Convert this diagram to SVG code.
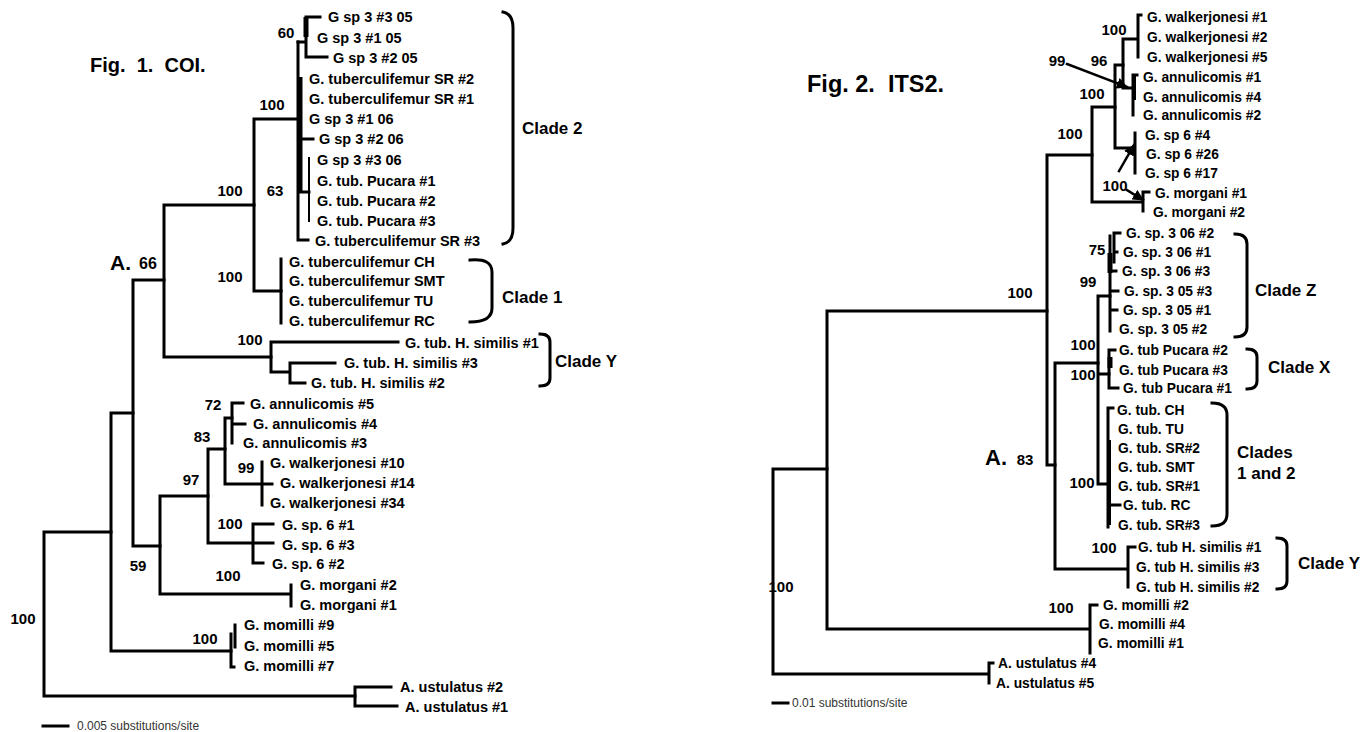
<svg xmlns="http://www.w3.org/2000/svg" width="1370" height="732" viewBox="0 0 1370 732">
<style>
.b{stroke:#000;stroke-width:3;fill:none;stroke-linecap:square}
.t{stroke:#000;stroke-width:5;fill:none}
text{font-family:"Liberation Sans",Arial,sans-serif;fill:#000;dominant-baseline:central}
.lf{font-size:14.5px;font-weight:bold}
.rf{font-size:13.8px;font-weight:bold}
.n{font-size:15px;font-weight:bold;text-anchor:middle}
.cl{font-size:17px;font-weight:bold}
.ti{font-weight:bold;dominant-baseline:auto;white-space:pre}
.sc{font-size:12px;fill:#333}
</style>
<defs>
<marker id="ah" viewBox="0 0 10 10" refX="9" refY="5" markerWidth="4.5" markerHeight="4.5" orient="auto"><path d="M0 0L10 5L0 10z" fill="#000"/></marker>
</defs>
<rect width="1370" height="732" fill="#fff"/>

<g id="titles">
<text class="ti" x="90" y="72" font-size="20" xml:space="preserve">Fig.  1.  COI.</text>
<text class="ti" x="807" y="92" font-size="23.5" xml:space="preserve">Fig. 2.  ITS2.</text>
</g>

<g id="connectors-fig1">
<path class="b" d="M44 532V696M44 532H111M44 696H355"/>
<path class="b" d="M355 687V706M355 687H391M355 706H397"/>
<path class="b" d="M111 413V651M111 413H133M111 651H231"/>
<path class="b" d="M231 634V667M235 625V647M231 667H234"/>
<path class="b" d="M133 280V546M133 280H164M133 546H160"/>
<path class="b" d="M164 205V357M164 205H254M164 357H271"/>
<path class="b" d="M254 119V291M254 119H298M254 291H281"/>
<path class="b" d="M298 42V240M298 240H308M298 139H313M298 192H309"/>
<path class="t" d="M300 77V193"/>
<path class="b" d="M298 42H306M306 17V57M306 17H320M306 57H327"/>
<path class="t" d="M306 17V37"/>
<path class="b" style="stroke-width:2" d="M309 158V221"/>
<path class="b" d="M281 259V323"/>
<path class="b" d="M271 342V372M271 342H398M271 372H290M290 363V383M290 363H335M290 383H305"/>
<path class="b" d="M160 496V594M160 496H208M160 594H291M291 585V606"/>
<path class="b" d="M208 449V543M208 449H225M208 543H273"/>
<path class="b" d="M225 418V484M225 418H232M225 484H272"/>
<path class="b" d="M232 403V443M232 403H243M232 424H245"/>
<path class="b" d="M262 462V505"/>
<path class="b" d="M253 524V563M253 524H273M253 563H263"/>
<path class="b" d="M43 726H68"/>
<path class="b" d="M503 12Q513 14 513 28V228Q513 242 503 244"/>
<path class="b" d="M470 260Q492 258 492 272V308Q492 322 470 322"/>
<path class="b" d="M540 334Q550 334 550 342V378Q550 386 540 386"/>
</g>

<g id="nodes-fig1">
<g id="l-clade2" class="lf">
<text x="328" y="17">G sp 3 #3 05</text>
<text x="317" y="38">G sp 3 #1 05</text>
<text x="333" y="58">G sp 3 #2 05</text>
<text x="309" y="79">G. tuberculifemur SR #2</text>
<text x="309" y="99">G. tuberculifemur SR #1</text>
<text x="309" y="119">G sp 3 #1 06</text>
<text x="319" y="139">G sp 3 #2 06</text>
<text x="317" y="160">G sp 3 #3 06</text>
<text x="317" y="181">G. tub. Pucara #1</text>
<text x="317" y="201">G. tub. Pucara #2</text>
<text x="317" y="221">G. tub. Pucara #3</text>
<text x="315" y="241">G. tuberculifemur SR #3</text>
</g>
<g id="l-clade1" class="lf">
<text x="289" y="262">G. tuberculifemur CH</text>
<text x="289" y="281">G. tuberculifemur SMT</text>
<text x="289" y="301">G. tuberculifemur TU</text>
<text x="289" y="321">G. tuberculifemur RC</text>
</g>
<g id="l-cladeY" class="lf">
<text x="405" y="343">G. tub. H. similis #1</text>
<text x="344" y="363">G. tub. H. similis #3</text>
<text x="311" y="383">G. tub. H. similis #2</text>
</g>
<g id="l-others" class="lf">
<text x="250" y="404">G. annulicomis #5</text>
<text x="253" y="424">G. annulicomis #4</text>
<text x="243" y="443">G. annulicomis #3</text>
<text x="270" y="463">G. walkerjonesi #10</text>
<text x="280" y="483">G. walkerjonesi #14</text>
<text x="270" y="503">G. walkerjonesi #34</text>
<text x="282" y="525">G. sp. 6 #1</text>
<text x="282" y="545">G. sp. 6 #3</text>
<text x="272" y="564">G. sp. 6 #2</text>
<text x="300" y="585">G. morgani #2</text>
<text x="300" y="605">G. morgani #1</text>
<text x="244" y="625">G. momilli #9</text>
<text x="244" y="646">G. momilli #5</text>
<text x="244" y="666">G. momilli #7</text>
<text x="400" y="687">A. ustulatus #2</text>
<text x="405" y="707">A. ustulatus #1</text>
</g>
<g id="l-support" class="n">
<text x="286" y="32">60</text>
<text x="272" y="104">100</text>
<text x="230" y="190">100</text>
<text x="275" y="190">63</text>
<text x="148" y="263" font-size="16">66</text>
<text x="230" y="276">100</text>
<text x="250" y="339">100</text>
<text x="213" y="404">72</text>
<text x="202" y="436">83</text>
<text x="246" y="467">99</text>
<text x="191" y="479">97</text>
<text x="230" y="523">100</text>
<text x="138" y="565">59</text>
<text x="228" y="575">100</text>
<text x="205" y="638">100</text>
<text x="23" y="618">100</text>
</g>
<g id="l-labels">
<text x="110" y="262" font-size="21" font-weight="bold">A.</text>
<text class="cl" x="522" y="128">Clade 2</text>
<text class="cl" x="502" y="297">Clade 1</text>
<text class="cl" x="555" y="361">Clade Y</text>
<text class="sc" x="77" y="726">0.005 substitutions/site</text>
</g>
</g>

<g id="connectors-fig2">
<path class="b" d="M773 469V674M773 469H827M773 674H989M989 663V683M989 663H993"/>
<path class="b" d="M827 311V629M827 311H1047M827 629H1090M1090 605V653M1090 605H1097"/>
<path class="b" d="M1047 155V465M1047 155H1092M1047 465H1055"/>
<path class="b" d="M1092 107V202M1092 107H1115M1092 202H1143M1143 192V211M1143 192H1149"/>
<path class="b" d="M1115 65V148M1115 65H1123M1115 148H1135M1135 133V173"/>
<path class="b" d="M1123 39V88M1123 39H1138M1123 88H1133M1138 15V57M1138 15H1141M1133 75V115M1133 75H1137"/>
<path class="t" style="stroke-width:4" d="M1134 75V100"/>
<path class="b" d="M1055 363V569M1055 363H1098M1055 569H1128M1128 547V587M1128 547H1135"/>
<path class="b" d="M1098 296V484M1098 296H1110M1098 374H1109M1098 484H1108"/>
<path class="b" d="M1110 236V331M1114 233V262M1114 233H1120M1114 252H1117M1110 271H1116M1110 291H1118M1110 310H1117"/>
<path class="t" d="M1110 253V273"/>
<path class="b" d="M1109 350V388M1109 350H1115M1109 388H1118"/>
<path class="t" d="M1110 357V368"/>
<path class="b" d="M1108 408V527M1108 408H1113M1108 505H1120"/>
<path class="t" style="stroke-width:4" d="M1109 440V525"/>
<path class="b" d="M773 703H788"/>
<path class="b" style="stroke-width:2.5" marker-end="url(#ah)" d="M1067 64L1127 87"/>
<path class="b" style="stroke-width:2.5" marker-end="url(#ah)" d="M1119 171L1134 145"/>
<path class="b" style="stroke-width:2.5" marker-end="url(#ah)" d="M1127 190L1143 200"/>
<path class="b" d="M1235 234Q1247 234 1247 244V327Q1247 337 1235 337"/>
<path class="b" d="M1247 349Q1257 349 1257 357V381Q1257 389 1247 389"/>
<path class="b" d="M1212 403Q1227 403 1227 415V514Q1227 526 1212 526"/>
<path class="b" d="M1277 538Q1287 538 1287 546V581Q1287 589 1277 589"/>
</g>

<g id="nodes-fig2">
<g id="r-upper" class="rf">
<text x="1147" y="17">G. walkerjonesi #1</text>
<text x="1147" y="37">G. walkerjonesi #2</text>
<text x="1147" y="57">G. walkerjonesi #5</text>
<text x="1143" y="77">G. annulicomis #1</text>
<text x="1143" y="97">G. annulicomis #4</text>
<text x="1143" y="115">G. annulicomis #2</text>
<text x="1145" y="135">G. sp 6 #4</text>
<text x="1146" y="154">G. sp 6 #26</text>
<text x="1145" y="173">G. sp 6 #17</text>
<text x="1155" y="193">G. morgani #1</text>
<text x="1153" y="212">G. morgani #2</text>
</g>
<g id="r-cladeZ" class="rf">
<text x="1126" y="233">G. sp. 3 06 #2</text>
<text x="1123" y="252">G. sp. 3 06 #1</text>
<text x="1122" y="271">G. sp. 3 06 #3</text>
<text x="1124" y="291">G. sp. 3 05 #3</text>
<text x="1123" y="310">G. sp. 3 05 #1</text>
<text x="1119" y="329">G. sp. 3 05 #2</text>
</g>
<g id="r-cladeX" class="rf">
<text x="1119" y="350">G. tub Pucara #2</text>
<text x="1119" y="370">G. tub Pucara #3</text>
<text x="1123" y="388">G. tub Pucara #1</text>
</g>
<g id="r-clade12" class="rf">
<text x="1117" y="410">G. tub. CH</text>
<text x="1118" y="429">G. tub. TU</text>
<text x="1118" y="448">G. tub. SR#2</text>
<text x="1118" y="467">G. tub. SMT</text>
<text x="1118" y="486">G. tub. SR#1</text>
<text x="1123" y="505">G. tub. RC</text>
<text x="1118" y="525">G. tub. SR#3</text>
</g>
<g id="r-cladeY" class="rf">
<text x="1138" y="547">G. tub H. similis #1</text>
<text x="1136" y="567">G. tub H. similis #3</text>
<text x="1136" y="587">G. tub H. similis #2</text>
</g>
<g id="r-outer" class="rf">
<text x="1103" y="605">G. momilli #2</text>
<text x="1099" y="624">G. momilli #4</text>
<text x="1098" y="643">G. momilli #1</text>
<text x="998" y="663">A. ustulatus #4</text>
<text x="996" y="683">A. ustulatus #5</text>
</g>
<g id="r-support" class="n">
<text x="1114" y="29">100</text>
<text x="1099" y="60">96</text>
<text x="1057" y="60">99</text>
<text x="1092" y="93">100</text>
<text x="1070" y="133">100</text>
<text x="1115" y="185">100</text>
<text x="1097" y="249">75</text>
<text x="1088" y="281">99</text>
<text x="1020" y="292">100</text>
<text x="1083" y="344">100</text>
<text x="1083" y="374">100</text>
<text x="1082" y="482">100</text>
<text x="1025" y="459">83</text>
<text x="1104" y="547">100</text>
<text x="1061" y="607">100</text>
<text x="781" y="586">100</text>
</g>
<g id="r-labels">
<text x="985" y="457" font-size="22" font-weight="bold">A.</text>
<text class="cl" x="1255" y="290">Clade Z</text>
<text class="cl" x="1268" y="367">Clade X</text>
<text class="cl" x="1237" y="452">Clades</text>
<text class="cl" x="1237" y="473">1 and 2</text>
<text class="cl" x="1298" y="563">Clade Y</text>
<text class="sc" x="792" y="703">0.01 substitutions/site</text>
</g>
</g>
</svg>
